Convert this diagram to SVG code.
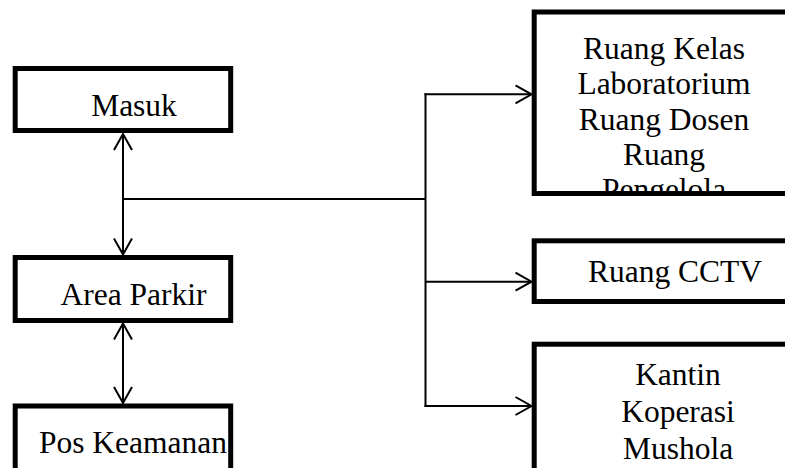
<svg xmlns="http://www.w3.org/2000/svg" width="785" height="468" viewBox="0 0 785 468">
  <style>
    .box { fill: #ffffff; stroke: #000000; stroke-width: 5; }
    .lbl { font-size: 31.5px; fill: #000000; text-anchor: middle; }
    .link { fill: none; stroke: #000000; stroke-width: 2; }
  </style>
  <defs>
    <marker id="arrow" markerUnits="userSpaceOnUse" markerWidth="24" markerHeight="24" viewBox="-18 -12 20 24" refX="0" refY="0" orient="auto-start-reverse">
      <path d="M-16,-9 L0,0 L-16,9" fill="none" stroke="#000000" stroke-width="2"/>
    </marker>
    <clipPath id="clipKelas">
      <rect x="536.5" y="14.5" width="260" height="176.5"/>
    </clipPath>
  </defs>

  <!-- connectors -->
  <g id="connectors">
    <line class="link" x1="123" y1="134" x2="123" y2="254.5" marker-start="url(#arrow)" marker-end="url(#arrow)"/>
    <line class="link" x1="123" y1="323.5" x2="123" y2="403" marker-start="url(#arrow)" marker-end="url(#arrow)"/>
    <line class="link" x1="123" y1="199" x2="425.5" y2="199"/>
    <line class="link" x1="425.5" y1="93.3" x2="425.5" y2="407"/>
    <line class="link" x1="424.5" y1="94.3" x2="531.5" y2="94.3" marker-end="url(#arrow)"/>
    <line class="link" x1="425.5" y1="281.7" x2="531.5" y2="281.7" marker-end="url(#arrow)"/>
    <line class="link" x1="424.5" y1="406" x2="531.5" y2="406" marker-end="url(#arrow)"/>
  </g>

  <g font-family="'Liberation Serif', 'Times New Roman', 'DejaVu Serif', serif">
    <!-- left column -->
    <g id="masuk">
      <rect class="box" x="15.2" y="68.5" width="215.5" height="62"/>
      <text class="lbl" x="134" y="116">Masuk</text>
    </g>
    <g id="area-parkir">
      <rect class="box" x="15.2" y="257.5" width="215.5" height="63"/>
      <text class="lbl" x="133.5" y="305">Area Parkir</text>
    </g>
    <g id="pos-keamanan">
      <rect class="box" x="15.2" y="406" width="215.5" height="80"/>
      <text class="lbl" x="133" y="452.7">Pos Keamanan</text>
    </g>

    <!-- right column -->
    <g id="ruang-kelas">
      <rect class="box" x="534.2" y="12" width="270" height="181.5"/>
      <g clip-path="url(#clipKelas)">
        <text class="lbl" x="664" y="59">Ruang Kelas</text>
        <text class="lbl" x="664" y="94.3">Laboratorium</text>
        <text class="lbl" x="664" y="129.6">Ruang Dosen</text>
        <text class="lbl" x="664" y="164.9">Ruang</text>
        <text class="lbl" x="664" y="200.2">Pengelola</text>
      </g>
    </g>
    <g id="ruang-cctv">
      <rect class="box" x="534.2" y="240.8" width="270" height="60.7"/>
      <text class="lbl" x="675" y="281.7">Ruang CCTV</text>
    </g>
    <g id="kantin">
      <rect class="box" x="534.2" y="344.2" width="270" height="140"/>
      <text class="lbl" x="678" y="385">Kantin</text>
      <text class="lbl" x="678" y="421.8">Koperasi</text>
      <text class="lbl" x="678" y="458.6">Mushola</text>
    </g>
  </g>
</svg>
